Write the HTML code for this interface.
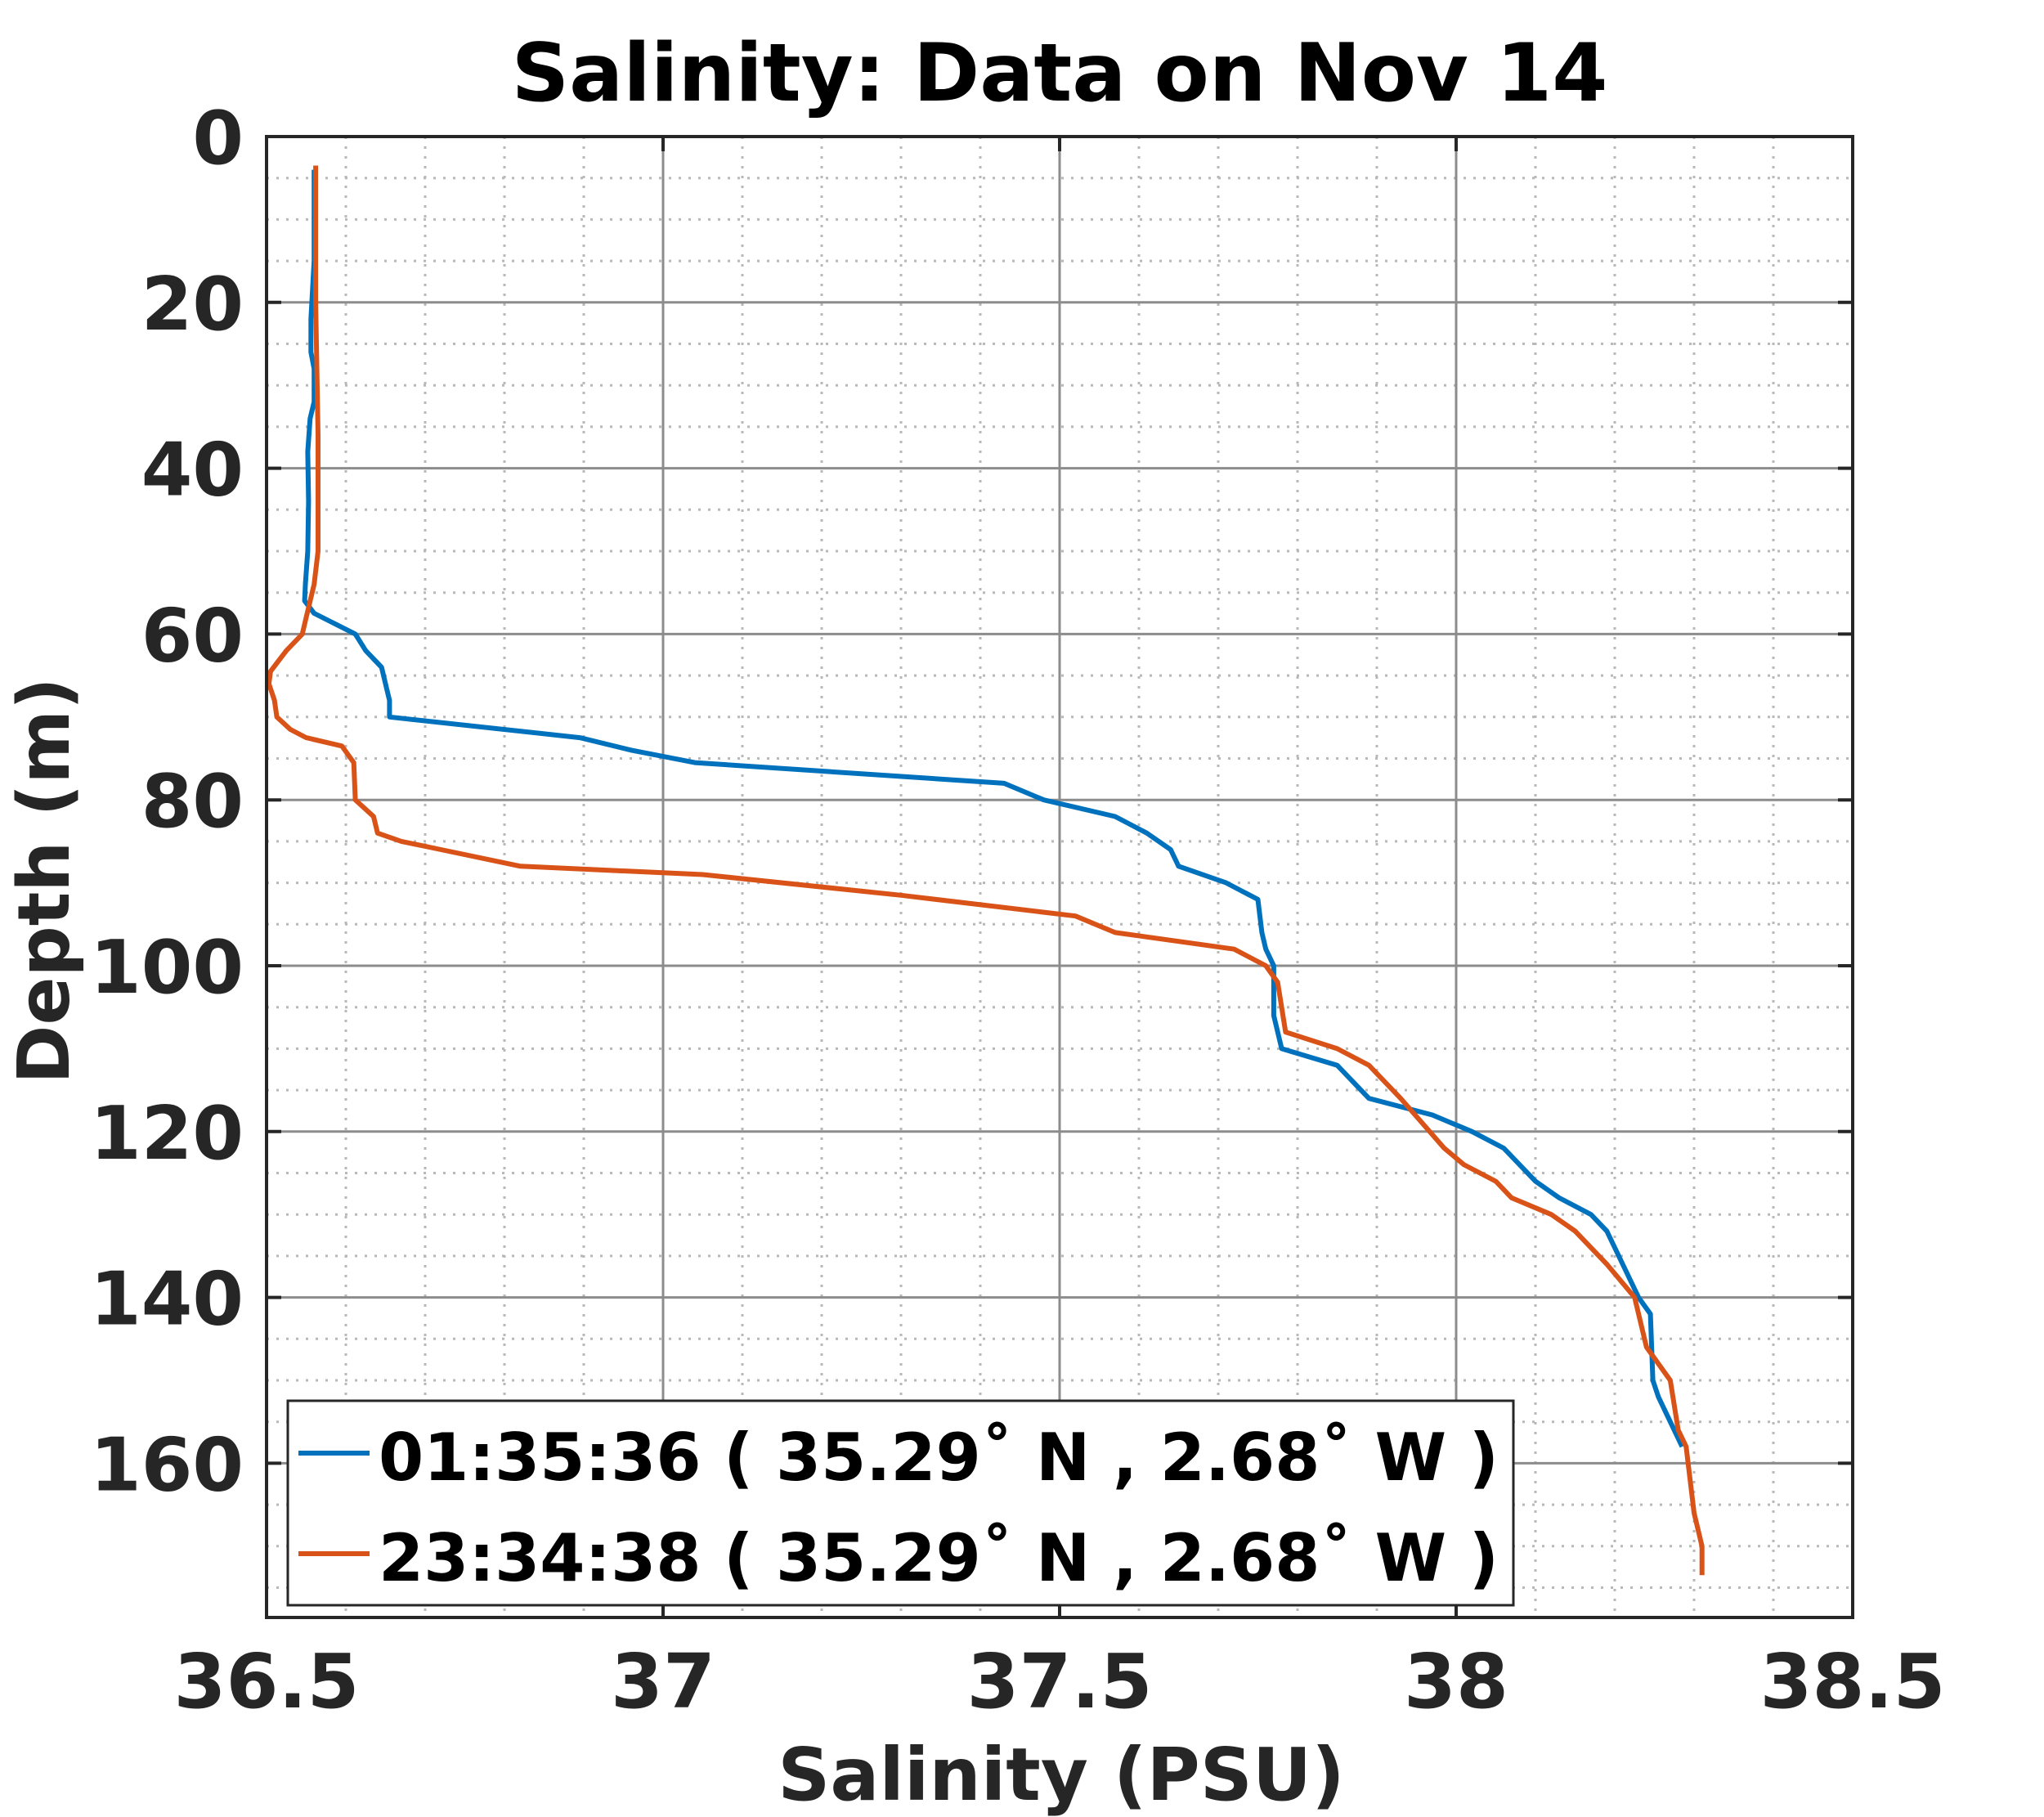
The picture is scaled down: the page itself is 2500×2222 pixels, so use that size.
<!DOCTYPE html>
<html><head><meta charset="utf-8"><style>
body{margin:0;background:#fff}
svg{display:block;font-family:"DejaVu Sans","Liberation Sans",sans-serif;font-weight:bold}
</style></head><body>
<svg id="chart" width="2500" height="2222" viewBox="0 0 2500 2222" xmlns="http://www.w3.org/2000/svg">
<rect width="2500" height="2222" fill="#fff"/>
<text x="1296" y="123" font-size="98" text-anchor="middle" fill="#000">Salinity: Data on Nov 14</text>
<g id="grid"></g><g id="series"></g><g id="axes"></g>
<text x="1298" y="2201" font-size="89" text-anchor="middle" fill="#262626">Salinity (PSU)</text>
<text transform="translate(84,1077) rotate(-90)" font-size="87" text-anchor="middle" fill="#262626">Depth (m)</text>
<g>
<rect x="352" y="1713" width="1499" height="250" fill="#fff" stroke="#262626" stroke-width="3"/>
<line x1="365" y1="1777" x2="452" y2="1777" stroke="#0072BD" stroke-width="6"/>
<text x="463" y="1810" font-size="80" fill="#000" textLength="1370" lengthAdjust="spacingAndGlyphs">01:35:36 ( 35.29˚ N , 2.68˚ W )</text>
<line x1="365" y1="1900" x2="452" y2="1900" stroke="#D95319" stroke-width="6"/>
<text x="463" y="1933" font-size="80" fill="#000" textLength="1370" lengthAdjust="spacingAndGlyphs">23:34:38 ( 35.29˚ N , 2.68˚ W )</text>
</g>
</svg>
<script>
const xTicks=[36.5,37,37.5,38,38.5];
const xTickLabels=["36.5","37","37.5","38","38.5"];
const yTicks=[0,20,40,60,80,100,120,140,160];
const yTickLabels=["0","20","40","60","80","100","120","140","160"];
const blueSal=[36.560,36.560,36.556,36.556,36.560,36.560,36.555,36.552,36.553,36.552,36.549,36.548,36.560,36.612,36.625,36.645,36.650,36.655,36.655,36.895,36.96,37.04,37.43,37.48,37.57,37.61,37.64,37.65,37.71,37.75,37.755,37.76,37.77,37.77,37.78,37.85,37.87,37.89,37.97,38.02,38.06,38.10,38.13,38.17,38.19,38.21,38.23,38.245,38.248,38.255,38.285];
const blueDepth=[4,15,22,26,28,32,34,38,44,50,54,56,57.5,60,62,64,66,68,70,72.5,74,75.5,78,80,82,84,86,88,90,92,96,98,100,106,110,112,114,116,118,120,122,126,128,130,132,136,140,142,150,152,158];
const orangeSal=[36.562,36.562,36.565,36.565,36.56,36.55,36.545,36.525,36.505,36.503,36.51,36.513,36.53,36.55,36.595,36.61,36.612,36.635,36.64,36.67,36.72,36.82,37.05,37.3,37.52,37.57,37.72,37.76,37.775,37.785,37.85,37.89,37.93,37.985,38.01,38.05,38.07,38.12,38.15,38.19,38.225,38.24,38.27,38.28,38.29,38.30,38.31,38.31];
const orangeDepth=[3.5,20,36,50,54,58,60,62,64.5,66,68,70,71.5,72.5,73.5,75.5,80,82,84,85,86,88,89,91.5,94,96,98,100,102,108,110,112,116,122,124,126,128,130,132,136,140,146,150,156,158,166,170,173.5];

const L=326,R=2266,T=167,B=1978,X0=36.5,X1=38.5,Y0=0,Y1=178.6;
const sx=v=>L+(v-X0)/(X1-X0)*(R-L);
const sy=v=>T+(v-Y0)/(Y1-Y0)*(B-T);
const NS="http://www.w3.org/2000/svg";
function mk(tag,attrs,parent){const e=document.createElementNS(NS,tag);for(const k in attrs)e.setAttribute(k,attrs[k]);parent.appendChild(e);return e;}
const grid=document.getElementById('grid'),axes=document.getElementById('axes'),series=document.getElementById('series');

for(let i=1;i<20;i++){const v=X0+i*0.1;if(i%5===0)continue;
 const g=mk('line',{x1:sx(v),x2:sx(v),y1:T,y2:B,stroke:'#b8b8b8','stroke-width':3,'stroke-dasharray':'3 9'},grid);
 
 }
for(let v=5;v<Y1;v+=5){if(v%20===0)continue;
 const g=mk('line',{x1:L,x2:R,y1:sy(v),y2:sy(v),stroke:'#b8b8b8','stroke-width':3,'stroke-dasharray':'3 9'},grid);
 
 }
xTicks.forEach((v,i)=>{
 if(i>0&&i<xTicks.length-1){const g=mk('line',{x1:sx(v),x2:sx(v),y1:T,y2:B,stroke:'#8c8c8c','stroke-width':3},grid);
  
  }
 mk('line',{x1:sx(v),x2:sx(v),y1:B,y2:B-18,stroke:'#262626','stroke-width':4},axes);
 mk('line',{x1:sx(v),x2:sx(v),y1:T,y2:T+18,stroke:'#262626','stroke-width':4},axes);
 const t=mk('text',{x:sx(v),y:2088,'font-size':92,'text-anchor':'middle',fill:'#262626'},axes);
 t.textContent=xTickLabels[i];
 
 
});
yTicks.forEach((v,i)=>{
 if(i>0){const g=mk('line',{x1:L,x2:R,y1:sy(v),y2:sy(v),stroke:'#8c8c8c','stroke-width':3},grid);
  
  }
 mk('line',{x1:L,x2:L+18,y1:sy(v),y2:sy(v),stroke:'#262626','stroke-width':4},axes);
 mk('line',{x1:R,x2:R-18,y1:sy(v),y2:sy(v),stroke:'#262626','stroke-width':4},axes);
 const t=mk('text',{x:298,y:sy(v)+33,'font-size':90,'text-anchor':'end',fill:'#262626'},axes);
 t.textContent=yTickLabels[i];
 
 
});
const box=mk('rect',{x:L,y:T,width:R-L,height:B-T,fill:'none',stroke:'#262626','stroke-width':4},axes);



function drawLine(xs,ys,color,name){
 const pts=xs.map((v,i)=>sx(v).toFixed(1)+','+sy(ys[i]).toFixed(1)).join(' ');
 const p=mk('polyline',{points:pts,fill:'none',stroke:color,'stroke-width':6,'stroke-linejoin':'round'},series);
 
 
}
drawLine(blueSal,blueDepth,'#0072BD','series-0135');
drawLine(orangeSal,orangeDepth,'#D95319','series-2334');
</script>
</body></html>
